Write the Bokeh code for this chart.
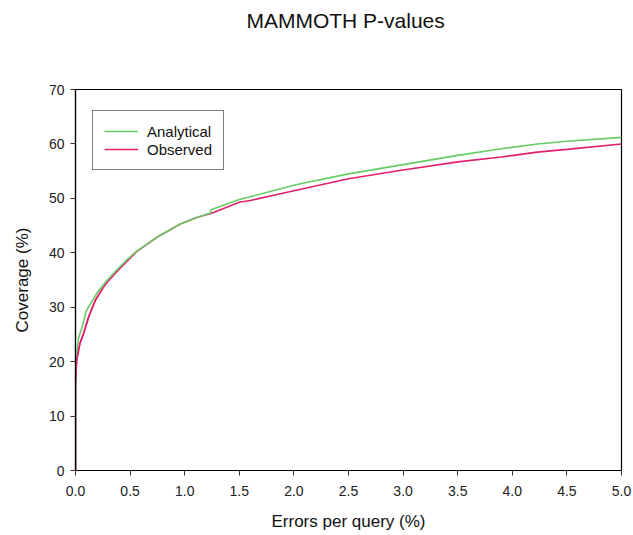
from bokeh.plotting import figure
from bokeh.models import FixedTicker, NumeralTickFormatter, Legend, LegendItem, Range1d, Title
from bokeh.embed import file_html
from bokeh.resources import INLINE

TITLE = "MAMMOTH  P-values"

# Analytical curve (errors per query %, coverage %)
analytical_x = [0.0, 0.0, 0.01, 0.03, 0.06, 0.10, 0.155, 0.2, 0.29, 0.4, 0.47, 0.56, 0.75,
                0.96, 1.11, 1.235, 1.24, 1.5, 1.6, 2.0, 2.06, 2.5, 3.0, 3.5, 3.9, 4.23, 4.5, 5.0]
analytical_y = [0.0, 15.3, 21.4, 24.5, 26.3, 29.4, 31.2, 32.7, 35.0, 37.3, 38.7, 40.3, 42.9,
                45.3, 46.5, 47.3, 47.9, 49.8, 50.3, 52.4, 52.7, 54.5, 56.2, 57.9, 59.1, 60.0, 60.5, 61.2]

# Observed curve
observed_x = [0.0, 0.0, 0.01, 0.04, 0.075, 0.12, 0.18, 0.25, 0.29, 0.4, 0.47, 0.56, 0.75,
              0.96, 1.11, 1.24, 1.5, 1.6, 2.0, 2.5, 3.0, 3.5, 3.9, 4.23, 4.5, 5.0]
observed_y = [0.0, 16.0, 20.2, 23.3, 25.2, 28.2, 31.2, 33.5, 34.6, 37.0, 38.4, 40.2, 42.9,
              45.3, 46.5, 47.2, 49.3, 49.6, 51.4, 53.6, 55.2, 56.7, 57.6, 58.5, 59.0, 60.0]

x_ticks = [0.0, 0.5, 1.0, 1.5, 2.0, 2.5, 3.0, 3.5, 4.0, 4.5, 5.0]
y_ticks = [0, 10, 20, 30, 40, 50, 60, 70]

FONT = "Liberation Sans"

p = figure(width=633, height=535, output_backend="svg", toolbar_location=None,
           x_range=Range1d(0, 5), y_range=Range1d(0, 70),
           min_border_left=75, min_border_right=12, min_border_top=89, min_border_bottom=65)

p.grid.visible = False
p.outline_line_color = "black"
p.outline_line_width = 1.2
p.background_fill_color = "white"
p.border_fill_color = "white"

# spacer panel between frame and title, then the title itself
spacer = Title(text=" ", text_font_size="1px", standoff=55)
p.add_layout(spacer, "above")
title = Title(text=TITLE, text_font=FONT, text_font_size="21px", text_font_style="normal",
              text_color="#111111", align="center", standoff=0)
p.add_layout(title, "above")

for ax in (p.xaxis[0], p.yaxis[0]):
    ax.major_label_text_font = FONT
    ax.major_label_text_font_size = "14px"
    ax.major_label_text_color = "#222222"
    ax.axis_label_text_font = FONT
    ax.axis_label_text_font_size = "17px"
    ax.axis_label_text_font_style = "normal"
    ax.axis_label_text_color = "#111111"
    ax.minor_tick_line_color = None
    ax.major_tick_in = 0
    ax.major_tick_out = 5
    ax.axis_line_color = "black"
    ax.axis_line_width = 1.2
    ax.major_tick_line_color = "#333333"

p.xaxis[0].ticker = FixedTicker(ticks=x_ticks)
p.xaxis[0].formatter = NumeralTickFormatter(format="0.0")
p.xaxis[0].axis_label = "Errors per query (%)"
p.xaxis[0].major_label_standoff = 10
p.xaxis[0].axis_label_standoff = 13

p.yaxis[0].ticker = FixedTicker(ticks=y_ticks)
p.yaxis[0].axis_label = "Coverage (%)"
p.yaxis[0].major_label_standoff = 6
p.yaxis[0].axis_label_standoff = 14

r_obs = p.line(observed_x, observed_y, line_color="#e2206e", line_width=1.6)
r_ana = p.line(analytical_x, analytical_y, line_color="#66cc66", line_width=1.6)
# draw observed on top near origin as in reference
r_obs2 = p.line(observed_x[:8], observed_y[:8], line_color="#e2206e", line_width=1.6)

legend = Legend(items=[LegendItem(label="Analytical", renderers=[r_ana]),
                       LegendItem(label="Observed", renderers=[r_obs])],
                location=(17, 300))
legend.label_text_font = FONT
legend.label_text_font_size = "15px"
legend.label_text_color = "#111111"
legend.border_line_color = "black"
legend.border_line_width = 1.2
legend.glyph_width = 34
legend.glyph_height = 18
legend.label_height = 18
legend.label_standoff = 9
legend.spacing = 0
legend.padding = 11
legend.margin = 0
legend.background_fill_alpha = 1.0
p.add_layout(legend, "center")

open("out.html", "w").write(file_html(p, INLINE))
